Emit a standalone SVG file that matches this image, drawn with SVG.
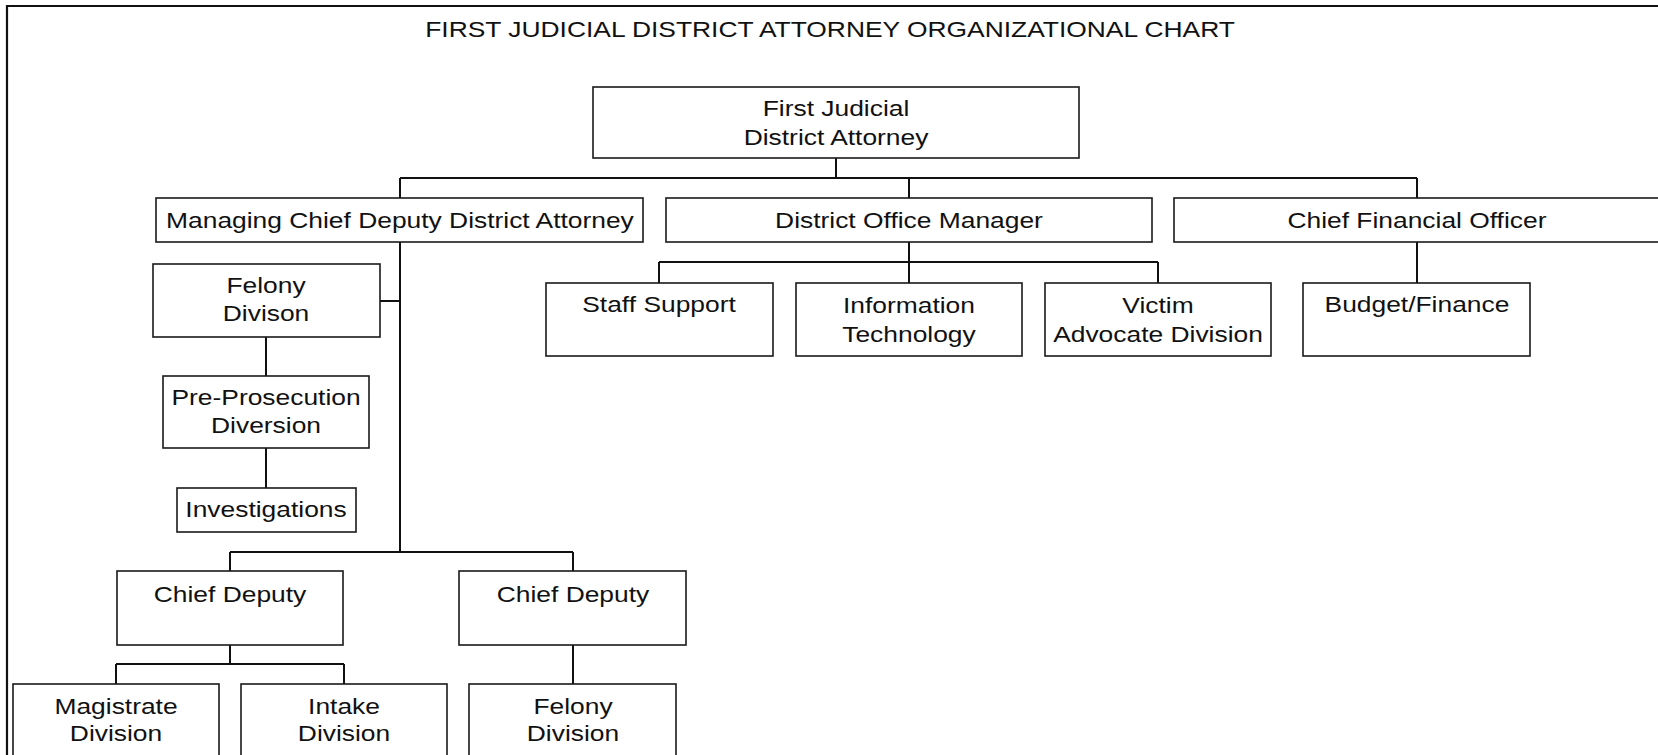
<svg xmlns="http://www.w3.org/2000/svg" width="1658" height="755" viewBox="0 0 1658 755">
<style>
.box{fill:#fff;stroke:#1a1a1a;stroke-width:1.6}
.t{font-family:"Liberation Sans",Arial,sans-serif;font-size:22px;fill:#111;text-anchor:middle}
.c{fill:none;stroke:#111;stroke-width:2}
.frame{fill:none;stroke:#111;stroke-width:2.2}
</style>
<rect width="1658" height="755" fill="#fff"/>
<path class="frame" d="M7,760 V6 H1662"/>
<text class="t" transform="scale(1.2,1)" x="691.7" y="37">FIRST JUDICIAL DISTRICT ATTORNEY ORGANIZATIONAL CHART</text>

<g id="connectors">
<path class="c" d="M836,158 V178 M400,178 H1417 M400,178 V198 M909,178 V198 M1417,178 V198"/>
<path class="c" d="M400,242 V552 M380,301 H400 M266,337 V376 M266,448 V488"/>
<path class="c" d="M230,552 H573 M230,552 V571 M573,552 V571"/>
<path class="c" d="M230,645 V664 M116,664 H344 M116,664 V684 M344,664 V684 M573,645 V684"/>
<path class="c" d="M909,242 V262 M659,262 H1158 M659,262 V283 M909,262 V283 M1158,262 V283"/>
<path class="c" d="M1417,242 V283"/>
</g>

<g id="n-da"><rect class="box" x="593" y="87" width="486" height="71"/>
<text class="t" transform="scale(1.2,1)" x="696.7" y="116">First Judicial</text>
<text class="t" transform="scale(1.2,1)" x="696.7" y="145">District Attorney</text></g>

<g id="n-managing"><rect class="box" x="156" y="198" width="487" height="44"/>
<text class="t" transform="scale(1.2,1)" x="333.3" y="228">Managing Chief Deputy District Attorney</text></g>

<g id="n-dom"><rect class="box" x="666" y="198" width="486" height="44"/>
<text class="t" transform="scale(1.2,1)" x="757.5" y="228">District Office Manager</text></g>

<g id="n-cfo"><rect class="box" x="1174" y="198" width="530" height="44"/>
<text class="t" transform="scale(1.2,1)" x="1180.8" y="228">Chief Financial Officer</text></g>

<g id="n-felony1"><rect class="box" x="153" y="264" width="227" height="73"/>
<text class="t" transform="scale(1.2,1)" x="221.7" y="293">Felony</text>
<text class="t" transform="scale(1.2,1)" x="221.7" y="321">Divison</text></g>

<g id="n-prepros"><rect class="box" x="163" y="376" width="206" height="72"/>
<text class="t" transform="scale(1.2,1)" x="221.7" y="405">Pre-Prosecution</text>
<text class="t" transform="scale(1.2,1)" x="221.7" y="433">Diversion</text></g>

<g id="n-invest"><rect class="box" x="177" y="488" width="179" height="44"/>
<text class="t" transform="scale(1.2,1)" x="221.7" y="517">Investigations</text></g>

<g id="n-cd1"><rect class="box" x="117" y="571" width="226" height="74"/>
<text class="t" transform="scale(1.2,1)" x="191.7" y="602">Chief Deputy</text></g>

<g id="n-cd2"><rect class="box" x="459" y="571" width="227" height="74"/>
<text class="t" transform="scale(1.2,1)" x="477.5" y="602">Chief Deputy</text></g>

<g id="n-magistrate"><rect class="box" x="13" y="684" width="206" height="90"/>
<text class="t" transform="scale(1.2,1)" x="96.7" y="714">Magistrate</text>
<text class="t" transform="scale(1.2,1)" x="96.7" y="741">Division</text></g>

<g id="n-intake"><rect class="box" x="241" y="684" width="206" height="90"/>
<text class="t" transform="scale(1.2,1)" x="286.7" y="714">Intake</text>
<text class="t" transform="scale(1.2,1)" x="286.7" y="741">Division</text></g>

<g id="n-felony2"><rect class="box" x="469" y="684" width="207" height="90"/>
<text class="t" transform="scale(1.2,1)" x="477.5" y="714">Felony</text>
<text class="t" transform="scale(1.2,1)" x="477.5" y="741">Division</text></g>

<g id="n-staff"><rect class="box" x="546" y="283" width="227" height="73"/>
<text class="t" transform="scale(1.2,1)" x="549.2" y="312">Staff Support</text></g>

<g id="n-it"><rect class="box" x="796" y="283" width="226" height="73"/>
<text class="t" transform="scale(1.2,1)" x="757.5" y="313">Information</text>
<text class="t" transform="scale(1.2,1)" x="757.5" y="342">Technology</text></g>

<g id="n-victim"><rect class="box" x="1045" y="283" width="226" height="73"/>
<text class="t" transform="scale(1.2,1)" x="965" y="313">Victim</text>
<text class="t" transform="scale(1.2,1)" x="965" y="342">Advocate Division</text></g>

<g id="n-budget"><rect class="box" x="1303" y="283" width="227" height="73"/>
<text class="t" transform="scale(1.2,1)" x="1180.8" y="312">Budget/Finance</text></g>
</svg>
